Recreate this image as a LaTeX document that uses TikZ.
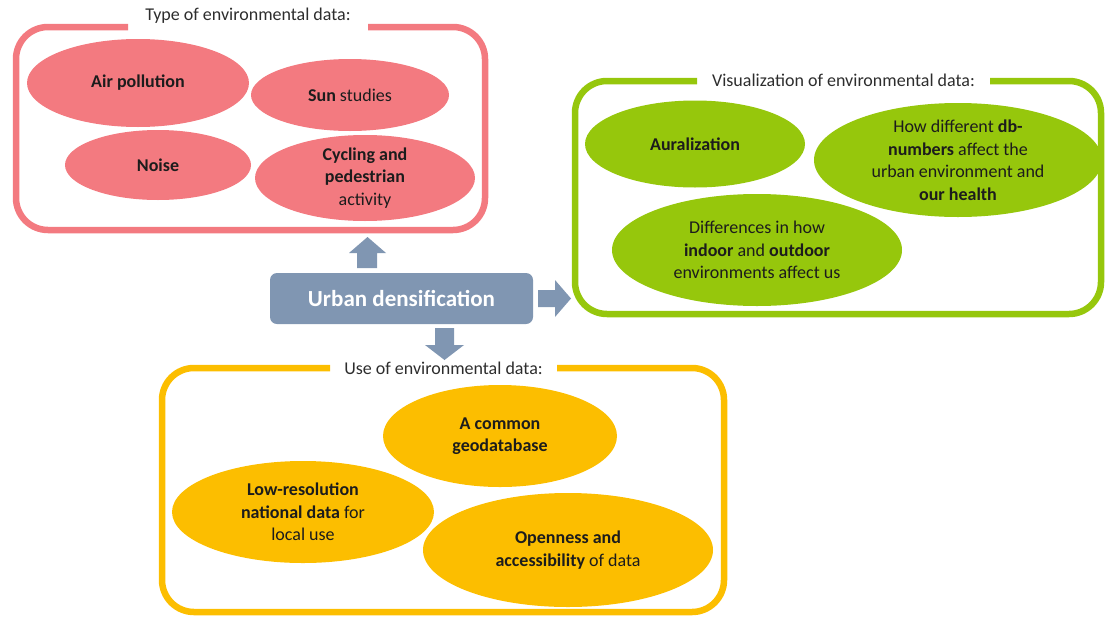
\documentclass[tikz,border=0pt]{standalone}
\usepackage{fontspec}
\setmainfont{Carlito}
\usetikzlibrary{shapes.geometric}
\definecolor{pinkc}{RGB}{243,122,128}
\definecolor{greenc}{RGB}{150,199,12}
\definecolor{yellowc}{RGB}{252,190,0}
\definecolor{bluec}{RGB}{128,150,178}
\definecolor{txtc}{RGB}{28,28,28}
\definecolor{ttlc}{RGB}{45,45,45}
\begin{document}
\begin{tikzpicture}[x=1pt,y=-1pt,
  frame/.style={line width=6.5pt, rounded corners=32pt},
  ttl/.style={anchor=base, inner sep=0pt, text=ttlc, font=\fontsize{18}{22}\selectfont},
  blob/.style={ellipse, inner sep=0pt, align=center, text=txtc, font=\fontsize{18}{22.5}\selectfont},
  pblob/.style={blob, fill=pinkc},
  gblob/.style={blob, fill=greenc},
  yblob/.style={blob, fill=yellowc},
  arr/.style={fill=bluec}
]
\useasboundingbox (0,0) rectangle (1105,616);

% ---- pink frame
\draw[frame, pinkc] (368,27) -- (485,27) -- (485,230) -- (16,230) -- (16,27) -- (128,27);
\node[ttl] (t1) at (248,20) {Type of environmental data:};
\node[pblob, minimum width=222pt, minimum height=88pt] (e1) at (138,83) {\textbf{Air pollution}};
\node[pblob, minimum width=198pt, minimum height=72pt] (e2) at (350,95) {\textbf{Sun} studies};
\node[pblob, minimum width=186pt, minimum height=70pt] (e3) at (158,165) {\textbf{Noise}};
\node[pblob, minimum width=220pt, minimum height=86pt] (e4) at (365,178) {\textbf{Cycling and}\\\textbf{pedestrian}\\activity};

% ---- green frame
\draw[frame, greenc] (990,81) -- (1101,81) -- (1101,314) -- (575,314) -- (575,81) -- (697,81);
\node[ttl] (t2) at (843.5,86) {Visualization of environmental data:};
\node[gblob, minimum width=220pt, minimum height=87pt] (g1) at (695,144) {\textbf{Auralization}};
\node[gblob, minimum width=288pt, minimum height=114pt] (g2) at (958,160) {How different \textbf{db-}\\\textbf{numbers} affect the\\urban environment and\\\textbf{our health}};
\node[gblob, minimum width=290pt, minimum height=112pt] (g3) at (757,250) {Differences in how\\\textbf{indoor} and \textbf{outdoor}\\environments affect us};

% ---- yellow frame
\draw[frame, yellowc] (557,368) -- (724,368) -- (724,612) -- (162,612) -- (162,368) -- (330,368);
\node[ttl] (t3) at (443.5,374) {Use of environmental data:};
\node[yblob, minimum width=234pt, minimum height=102pt] (y1) at (500,436) {\textbf{A common}\\\textbf{geodatabase}};
\node[yblob, minimum width=262pt, minimum height=102pt] (y2) at (303,512) {\textbf{Low-resolution}\\\textbf{national data} for\\local use};
\node[yblob, minimum width=290pt, minimum height=114pt] (y3) at (568,550) {\textbf{Openness and}\\\textbf{accessibility} of data};

% ---- centre
\node[fill=bluec, rounded corners=7pt, minimum width=263pt, minimum height=51pt, inner sep=0pt,
      text=white, font=\fontsize{23}{27}\selectfont\bfseries] (ud) at (401.5,298.5) {Urban densification};

% ---- block arrows
\fill[arr] (357,268) -- (357,253) -- (349,253) -- (367.5,237) -- (386,253) -- (377,253) -- (377,268) -- cycle;
\fill[arr] (538,290) -- (555,290) -- (555,280) -- (571,298.5) -- (555,317) -- (555,307) -- (538,307) -- cycle;
\fill[arr] (435,328) -- (454,328) -- (454,345) -- (464,345) -- (444.5,360) -- (425,345) -- (435,345) -- cycle;
\end{tikzpicture}
\end{document}
